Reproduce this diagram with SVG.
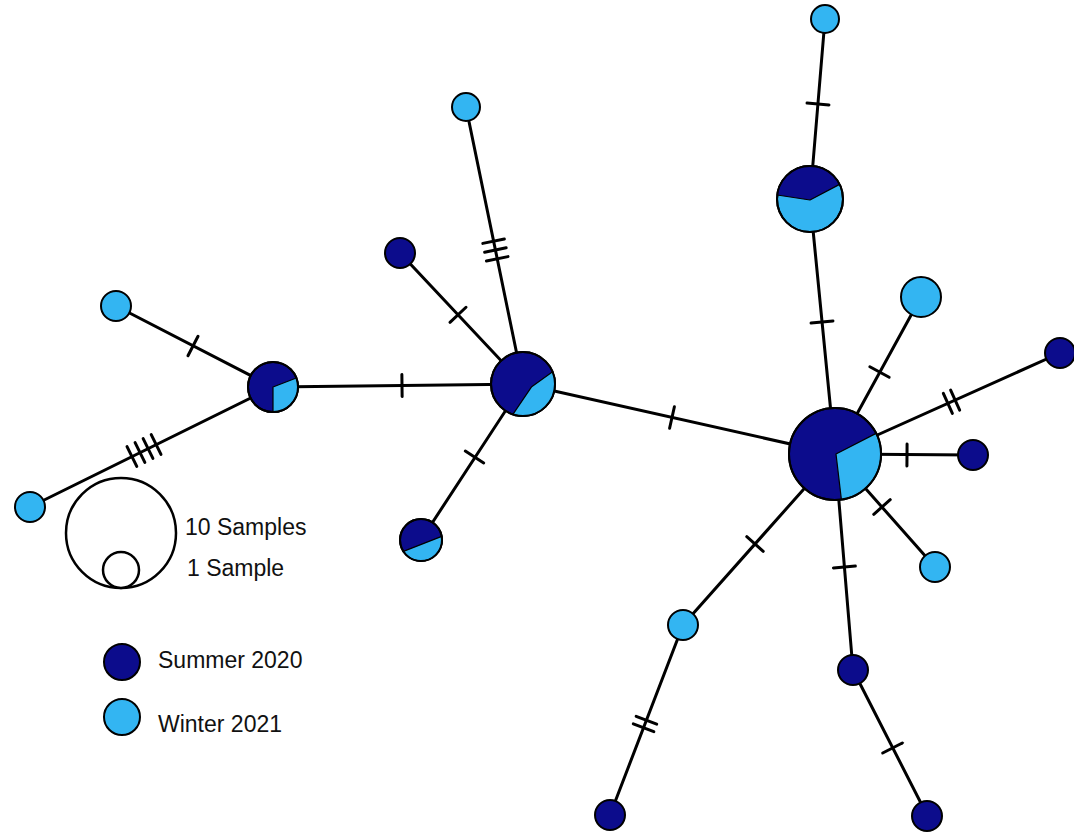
<svg xmlns="http://www.w3.org/2000/svg" xmlns:xlink="http://www.w3.org/1999/xlink" width="1074" height="836" viewBox="0 0 1074 836">
<style>
.e{stroke:#000;stroke-width:3;fill:none;stroke-linecap:round}
.tk{stroke:#000;stroke-width:3;stroke-linecap:round}
.d{fill:#0c0c8c;stroke:#000;stroke-width:2}
.l{fill:#33b5f2;stroke:#000;stroke-width:2}
.lw{fill:#33b5f2;stroke:#000;stroke-width:1.2;stroke-linejoin:round}
.o{fill:none;stroke:#000;stroke-width:2}
.lg{fill:#fff;stroke:#000;stroke-width:2.5}
.t{font-family:"Liberation Sans",Arial,sans-serif;font-size:23px;fill:#111}
</style>
<defs>
<g id="t1"><line class="tk" x1="0" y1="-11" x2="0" y2="11"/></g>
<g id="t2"><line class="tk" x1="-4" y1="-11" x2="-4" y2="11"/><line class="tk" x1="4" y1="-11" x2="4" y2="11"/></g>
<g id="t3"><line class="tk" x1="-9" y1="-11" x2="-9" y2="11"/><line class="tk" x1="0" y1="-11" x2="0" y2="11"/><line class="tk" x1="9" y1="-11" x2="9" y2="11"/></g>
<g id="t4"><line class="tk" x1="-13.5" y1="-11" x2="-13.5" y2="11"/><line class="tk" x1="-4.5" y1="-11" x2="-4.5" y2="11"/><line class="tk" x1="4.5" y1="-11" x2="4.5" y2="11"/><line class="tk" x1="13.5" y1="-11" x2="13.5" y2="11"/></g>
</defs>
<rect width="1074" height="836" fill="#fff"/>
<g id="connectors">
<line class="e" x1="116" y1="306" x2="273" y2="387"/>
<line class="e" x1="30" y1="507" x2="273" y2="387"/>
<line class="e" x1="273" y1="387" x2="523" y2="384"/>
<line class="e" x1="400" y1="253" x2="523" y2="384"/>
<line class="e" x1="466" y1="107" x2="523" y2="384"/>
<line class="e" x1="523" y1="384" x2="421" y2="540"/>
<line class="e" x1="523" y1="384" x2="835" y2="454"/>
<line class="e" x1="810" y1="199" x2="835" y2="454"/>
<line class="e" x1="825" y1="19" x2="810" y2="199"/>
<line class="e" x1="921" y1="297" x2="835" y2="454"/>
<line class="e" x1="1060" y1="353" x2="835" y2="454"/>
<line class="e" x1="835" y1="454" x2="973" y2="455"/>
<line class="e" x1="835" y1="454" x2="935" y2="567"/>
<line class="e" x1="835" y1="454" x2="683" y2="625"/>
<line class="e" x1="835" y1="454" x2="853" y2="670"/>
<line class="e" x1="683" y1="625" x2="610" y2="815"/>
<line class="e" x1="853" y1="670" x2="927" y2="815"/>
<use xlink:href="#t1" transform="translate(193,346) rotate(27.3)"/>
<use xlink:href="#t4" transform="translate(144,450.5) rotate(-26.3)"/>
<use xlink:href="#t1" transform="translate(402,385.5) rotate(-0.7)"/>
<use xlink:href="#t1" transform="translate(458,314.8) rotate(46.8)"/>
<use xlink:href="#t3" transform="translate(495.4,250) rotate(78.4)"/>
<use xlink:href="#t1" transform="translate(474.5,457) rotate(123.2)"/>
<use xlink:href="#t1" transform="translate(672,417.5) rotate(12.6)"/>
<use xlink:href="#t1" transform="translate(822,322) rotate(84.4)"/>
<use xlink:href="#t1" transform="translate(818,104) rotate(94.8)"/>
<use xlink:href="#t1" transform="translate(879.5,372) rotate(118.7)"/>
<use xlink:href="#t2" transform="translate(951.5,401.7) rotate(155.8)"/>
<use xlink:href="#t1" transform="translate(907,455) rotate(0.4)"/>
<use xlink:href="#t1" transform="translate(882,507) rotate(48.5)"/>
<use xlink:href="#t1" transform="translate(755,544) rotate(131.6)"/>
<use xlink:href="#t1" transform="translate(844.4,567) rotate(85.2)"/>
<use xlink:href="#t2" transform="translate(645,724) rotate(111)"/>
<use xlink:href="#t1" transform="translate(892.5,748) rotate(63)"/>
</g>
<g id="nA"><circle class="l" cx="116" cy="306" r="15"/></g>
<g id="nB"><circle class="l" cx="30" cy="507" r="15"/></g>
<g id="hub1"><circle class="d" cx="273" cy="387" r="25"/><path class="lw" d="M273,387 L296.3,378 A25,25 0 0 1 273,412 Z"/><circle class="o" cx="273" cy="387" r="25"/></g>
<g id="hub2"><circle class="d" cx="523" cy="384" r="32"/><path class="lw" d="M552.6,371.8 L531.7,386.7 L512.9,414.4 A32,32 0 0 0 552.6,371.8 Z"/><circle class="o" cx="523" cy="384" r="32"/></g>
<g id="hub3"><circle class="d" cx="835" cy="454" r="46"/><path class="lw" d="M836,454 L876.1,433.4 A46,46 0 0 1 841.4,499.5 Z"/><circle class="o" cx="835" cy="454" r="46"/></g>
<g id="nC"><circle class="l" cx="810" cy="199" r="33"/><path d="M777.2,195 L810,200 L839.6,184.4 A33,33 0 0 0 777.2,195 Z" fill="#0c0c8c" stroke="#000" stroke-width="1.2" stroke-linejoin="round"/><circle class="o" cx="810" cy="199" r="33"/></g>
<g id="nD"><circle class="d" cx="421" cy="540" r="21"/><path class="lw" d="M403.4,551.4 L441.7,536.4 A21,21 0 0 1 403.4,551.4 Z"/><circle class="o" cx="421" cy="540" r="21"/></g>
<g id="nE"><circle class="d" cx="400" cy="253" r="15"/></g>
<g id="nF"><circle class="l" cx="466" cy="107" r="14"/></g>
<g id="nG"><circle class="l" cx="825" cy="19" r="14"/></g>
<g id="nH"><circle class="l" cx="921" cy="297" r="20"/></g>
<g id="nI"><circle class="d" cx="1060" cy="353" r="15"/></g>
<g id="nJ"><circle class="d" cx="973" cy="455" r="15"/></g>
<g id="nK"><circle class="l" cx="935" cy="567" r="15"/></g>
<g id="nL"><circle class="l" cx="683" cy="625" r="15"/></g>
<g id="nM"><circle class="d" cx="853" cy="670" r="15"/></g>
<g id="nN"><circle class="d" cx="610" cy="815" r="15"/></g>
<g id="nO"><circle class="d" cx="927" cy="816" r="15"/></g>
<g id="legend">
<circle class="lg" cx="121" cy="533" r="55"/>
<circle class="lg" cx="121" cy="570" r="18"/>
<text class="t" x="185" y="535">10 Samples</text>
<text class="t" x="187" y="576">1 Sample</text>
<circle class="d" cx="122" cy="662" r="18"/>
<text class="t" x="158" y="668">Summer 2020</text>
<circle class="l" cx="122" cy="717" r="18"/>
<text class="t" x="158" y="732">Winter 2021</text>
</g>
</svg>
